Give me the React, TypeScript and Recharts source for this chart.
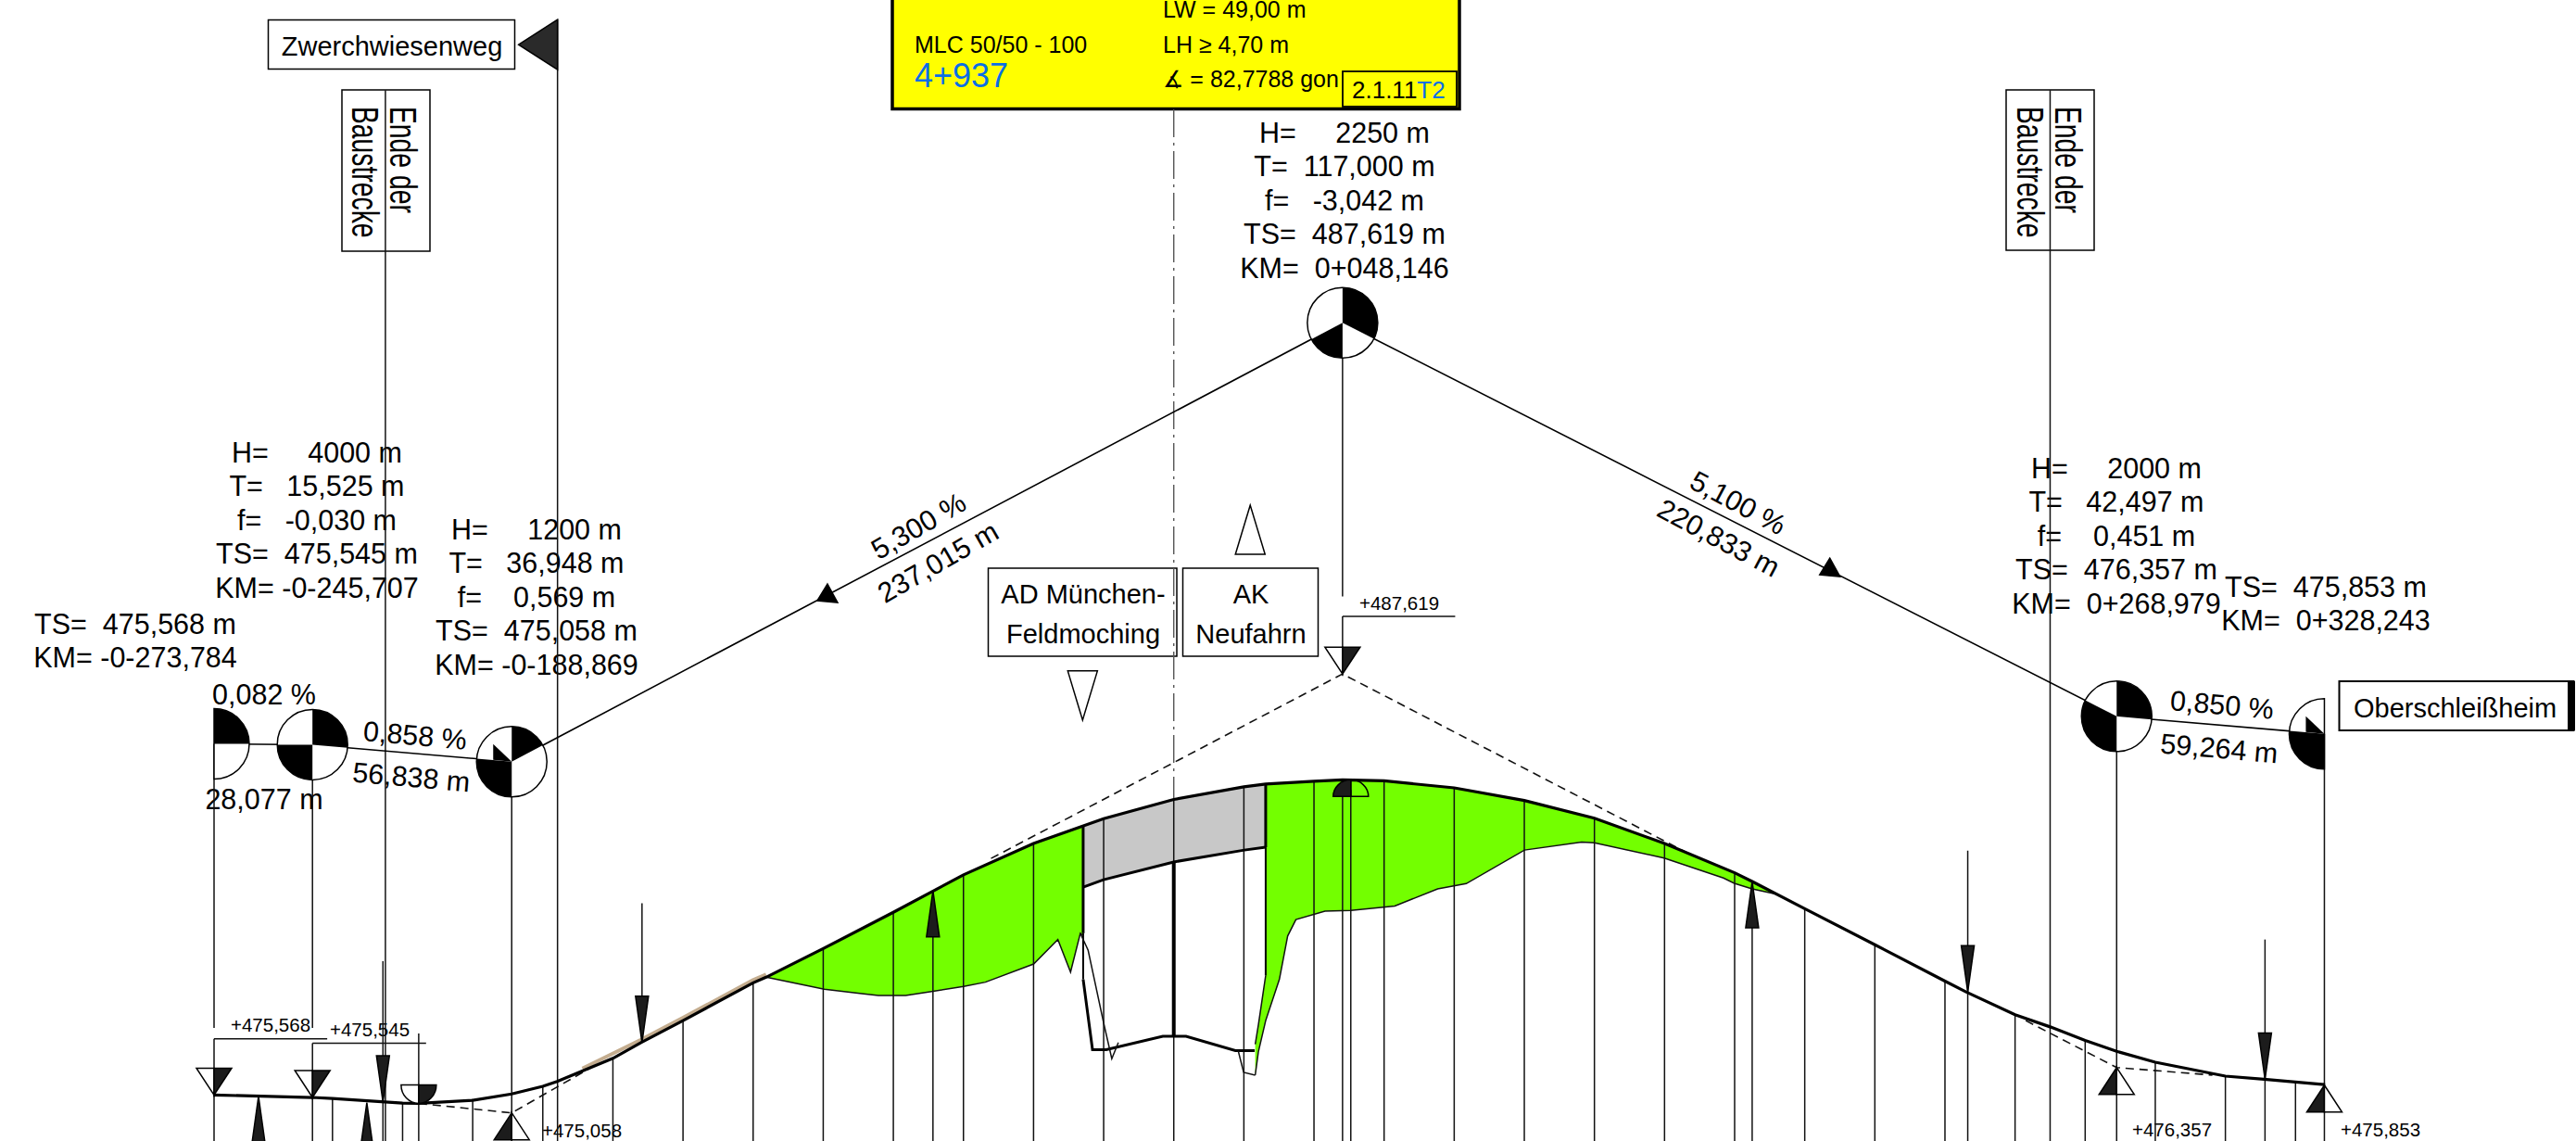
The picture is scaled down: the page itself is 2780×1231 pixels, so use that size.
import React from 'react';
import { ComposedChart, XAxis, YAxis, Line, Area, Scatter } from 'recharts';

const W = 2780, H = 1231;
const KM_DOMAIN = [-334.847, 400.02];
const TS_DOMAIN = [474.254, 506.907];
const GROUND = 474.25;
const SCHEMA_OFFSET = 10.05;
const FONT = '"Liberation Sans","DejaVu Sans",Arial,sans-serif';
const GREEN = '#73ff00';

// design profile (Gradiente)
const profileKm = [-273.78,-245.71,-240,-220,-215.4,-200,-188.87,-180,-175.9,-160,-152,-140,-120,-116.3,-100,-80,-60,-40,-20,0,20,26.22,40,48.15,60,80,100,120,140,160,165,180,200,220,226,240,250,260,268.98,280,300,311,320,328.24];
const profileTs = [475.57,475.5,475.47,475.34,475.33,475.42,475.6,475.82,475.96,476.62,477.07,477.7,478.78,478.94,479.76,480.8,481.87,482.77,483.48,484.03,484.39,484.47,484.55,484.59,484.56,484.36,484,483.49,482.77,481.93,481.68,480.9,479.87,478.83,478.52,477.87,477.52,477.13,476.82,476.51,476.11,476.02,475.94,475.87];

// tangent points
const pviKm = [-273.784,-245.707,-188.869,48.146,268.979,328.243];
const pviTs = [475.568,475.545,475.058,487.619,476.357,475.853];

// station grid
const tickKm = [-240,-220,-200,-180,-160,-140,-120,-100,-80,-60,-40,-20,0,20,40,60,80,100,120,140,160,180,200,220,240,260,280,300,320];
const tickTop = [475.47,475.34,475.42,475.82,476.62,477.7,478.78,479.76,480.8,481.87,482.77,483.48,484.03,484.39,484.55,484.56,484.36,484,483.49,482.77,481.93,480.9,479.87,478.83,477.87,477.13,476.51,476.11,475.94];

// green embankment 1
const green1Km = [-116.26,-99.68,-89.03,-84.27,-76.5,-68.68,-59.96,-53.74,-39.97,-33.07,-29.45,-26.65,-25.85];
const green1Low = [478.94,478.6,478.47,478.42,478.42,478.54,478.68,478.8,479.32,480.02,479.09,480.2,480.12];
const green1Top = [478.94,479.76,480.31,480.57,480.97,481.42,481.87,482.16,482.77,483.03,483.17,483.27,483.3];

// green embankment 2
const green2Km = [23.24,24.16,26.22,26.22,30.13,32.49,34.84,43.14,50.52,63.05,75.28,83.43,100.05,116.36,119.96,139.89,156.81,159.9,165,172.3];
const green2Low = [476.14,476.82,477.7,477.7,478.88,480.12,480.59,480.83,480.85,480.98,481.47,481.62,482.58,482.81,482.79,482.35,481.78,481.63,481.47,481.31];
const green2Top = [477.02,477.59,478.99,484.47,484.49,484.52,484.53,484.57,484.59,484.54,484.41,484.29,484,483.58,483.49,482.77,482.08,481.93,481.68,481.31];

// bridge deck
const deckKm = [-25.85,-20.04,0,20.14,26.22];
const deckLow = [481.52,481.73,482.24,482.58,482.66];
const deckTop = [483.3,483.48,484.03,484.39,484.47];

// road under the bridge and thin terrain lines
const roadKm = [-25.85,-23.18,-19.27,-3.12,3.49,17.58,23.08];
const roadTs = [478.88,476.87,476.87,477.25,477.25,476.84,476.84];
const terrainAKm = [-26.65,-24.43,-20.04,-17.68,-15.81];
const terrainATs = [480.2,479.71,477.65,476.61,477.07];
const terrainBKm = [18.37,19.93,23.24];
const terrainBTs = [476.84,476.22,476.14];

// dashed tangents
const tangentA = [[-215.4,475.33],[-188.87,475.058],[-164.4,476.46]];
const tangentB = [[-52.13,482.34],[48.146,487.619],[146.5,482.5]];
const tangentC = [[243.05,477.7],[268.979,476.357],[296.3,476.14]];
const tanStrip = [[-168.7,476.33],[-152,477.15],[-140,477.78],[-120,478.86],[-116.3,479.02]];

// long verticals: [km, from, to]
const longLines = [
  [-273.784,485.618,477.49],[-273.784,477.18,GROUND],
  [-245.707,485.595,477.49],[-245.707,477.05,GROUND],
  [-215.4,477.33,GROUND],
  [-188.869,485.108,GROUND],
  [48.146,497.669,489.84],[48.146,489.27,487.62],[48.146,484.59,GROUND],[50.5,484.3,GROUND],
  [268.979,486.407,GROUND],[328.243,485.903,GROUND],
  [-224.9,504.33,GROUND],[250,504.33,GROUND],[-175.8,506.35,GROUND],
  [-225.6,479.4,GROUND],[-151.7,481.06,477.07],[226.5,482.56,GROUND],[311.3,480.02,GROUND],
  [-68.7,481.42,GROUND],[165,481.68,GROUND],
];
const leaders = [
  [[-273.784,477.18],[-241.5,477.18]],
  [[-245.707,477.05],[-213.3,477.05]],
  [[48.146,489.27],[80.28,489.27]],
];

// symbols on the profile
const wedges = [
  { x:-273.784, y:475.57, kind:'drop' },{ x:-245.707, y:475.5, kind:'drop' },{ x:48.146, y:487.619, kind:'drop' },
  { x:-215.4, y:475.33, kind:'dish' },{ x:50.5, y:484.59, kind:'dome' },
  { x:-188.869, y:475.058, kind:'rise' },{ x:268.979, y:476.357, kind:'rise' },{ x:328.243, y:475.853, kind:'rise' },
  { x:-225.6, y:475.37, kind:'arrowDown' },{ x:-151.7, y:477.07, kind:'arrowDown' },{ x:226.5, y:478.52, kind:'arrowDown' },{ x:311.3, y:476.02, kind:'arrowDown' },
  { x:-261.1, y:475.53, kind:'arrowUp' },{ x:-230.2, y:475.35, kind:'arrowUp' },{ x:-68.7, y:481.42, kind:'arrowUp' },{ x:165, y:481.68, kind:'arrowUp' },
  { x:-99.07, y:489.93, kind:'slope' },{ x:186.9, y:490.67, kind:'slope' },
  { x:21.81, y:492.45, kind:'whiteUp' },{ x:-26.01, y:486.3, kind:'whiteDown' },
  { x:-175.8, y:505.63, kind:'flag' },
];
const outDeg = [0,5,-28,27,5,0];
const inDeg = [180,180,185,152,207,185];
const nodeHalf = ['right','full','full','full','full','left'];
const nodeTick = [false,false,true,false,false,true];

const blocks = [
  { cx:342, y:499, lines:['H=     4000 m','T=   15,525 m','f=   -0,030 m','TS=  475,545 m','KM= -0-245,707'] },
  { cx:579, y:582, lines:['H=     1200 m','T=   36,948 m','f=    0,569 m','TS=  475,058 m','KM= -0-188,869'] },
  { cx:1451, y:154, lines:['H=     2250 m','T=  117,000 m','f=   -3,042 m','TS=  487,619 m','KM=  0+048,146'] },
  { cx:2284, y:516, lines:['H=     2000 m','T=   42,497 m','f=    0,451 m','TS=  476,357 m','KM=  0+268,979'] },
  { cx:146, y:684, lines:['TS=  475,568 m','KM= -0-273,784'] },
  { cx:2510, y:644, lines:['TS=  475,853 m','KM=  0+328,243'] },
];
const slopeTexts = [
  { t:'0,082 %', x:285, y:749, r:0 },{ t:'28,077 m', x:285, y:862, r:0 },
  { t:'0,858 %', x:448, y:793, r:5 },{ t:'56,838 m', x:444, y:838, r:5 },
  { t:'5,300 %', x:991, y:567, r:-30 },{ t:'237,015 m', x:1012, y:606, r:-30 },
  { t:'5,100 %', x:1876, y:542, r:28 },{ t:'220,833 m', x:1855, y:580, r:28 },
  { t:'0,850 %', x:2398, y:760, r:5 },{ t:'59,264 m', x:2395, y:807, r:5 },
];
const levels = [
  { t:'+475,568', x:249, y:1113 },{ t:'+475,545', x:356, y:1118 },{ t:'+475,058', x:585, y:1227 },
  { t:'+487,619', x:1467, y:658 },{ t:'+476,357', x:2301, y:1226 },{ t:'+475,853', x:2526, y:1226 },
];

const toPts = (xs: number[], ys: number[]) => xs.map((x, i) => ({ x, y: ys[i] }));
const toBand = (xs: number[], lo: number[], hi: number[]) => xs.map((x, i) => ({ x, y: [lo[i], hi[i]] }));
const pairs = (a: number[][]) => a.map(([x, y]) => ({ x, y }));

const profile = toPts(profileKm, profileTs);
const upper = pviKm.map((x, i) => ({ x, y: pviTs[i] + SCHEMA_OFFSET }));
const nodes = pviKm.map((x, i) => ({ x, y: pviTs[i] + SCHEMA_OFFSET, kind: 'node', out: outDeg[i], in: inDeg[i], half: nodeHalf[i], tick: nodeTick[i] }));

const polar = (cx: number, cy: number, r: number, d: number) => {
  const a = (d * Math.PI) / 180;
  return `${cx + r * Math.cos(a)} ${cy + r * Math.sin(a)}`;
};
const sector = (cx: number, cy: number, r: number, a: number, b: number) =>
  `M${cx} ${cy}L${polar(cx, cy, r, a)}A${r} ${r} 0 ${b - a > 180 ? 1 : 0} 1 ${polar(cx, cy, r, b)}Z`;

function Node(p: any) {
  const { cx, cy, payload: d } = p;
  const r = 38;
  const parts: any[] = [];
  if (d.half === 'right') {
    parts.push(<path key="o" d={`M${cx} ${cy - r}A${r} ${r} 0 0 1 ${cx} ${cy + r}Z`} fill="#fff" stroke="#000" strokeWidth={1.5} />);
    parts.push(<path key="a" d={sector(cx, cy, r, -90, 0)} fill="#000" />);
  } else if (d.half === 'left') {
    parts.push(<path key="o" d={`M${cx} ${cy + r}A${r} ${r} 0 0 1 ${cx} ${cy - r}Z`} fill="#fff" stroke="#000" strokeWidth={1.5} />);
    parts.push(<path key="b" d={sector(cx, cy, r, 90, d.in)} fill="#000" />);
  } else {
    parts.push(<circle key="o" cx={cx} cy={cy} r={r} fill="#fff" stroke="#000" strokeWidth={1.5} />);
    parts.push(<path key="a" d={sector(cx, cy, r, -90, d.out)} fill="#000" />);
    parts.push(<path key="b" d={sector(cx, cy, r, 90, d.in)} fill="#000" />);
  }
  if (d.tick) parts.push(<path key="t" d={`M${cx - 20} ${cy - 19}L${cx} ${cy}L${cx - 20} ${cy - 2}Z`} fill="#000" />);
  return <g>{parts}</g>;
}

function Glyph(p: any) {
  const { cx, cy, payload: d } = p;
  const dark = '#1c1c1c';
  const s = { stroke: '#000', strokeWidth: 1.5 };
  const P = (pts: number[][], fill: string, key: string) => (
    <polygon key={key} points={pts.map(([a, b]) => `${cx + a},${cy + b}`).join(' ')} fill={fill} {...s} />
  );
  switch (d.kind) {
    case 'drop':
      return <g>{P([[0, 0], [-19, -29], [0, -29]], '#fff', 'a')}{P([[0, 0], [19, -29], [0, -29]], dark, 'b')}</g>;
    case 'rise':
      return <g>{P([[0, 0], [-19, 29], [0, 29]], dark, 'a')}{P([[0, 0], [19, 29], [0, 29]], '#fff', 'b')}</g>;
    case 'dish':
      return <g>
        <path d={`M${cx} ${cy - 20}L${cx - 19} ${cy - 20}A19 20 0 0 0 ${cx} ${cy}Z`} fill="#fff" {...s} />
        <path d={`M${cx} ${cy - 20}L${cx + 19} ${cy - 20}A19 20 0 0 1 ${cx} ${cy}Z`} fill={dark} {...s} />
      </g>;
    case 'dome':
      return <g>
        <path d={`M${cx} ${cy + 18}L${cx - 19} ${cy + 18}A19 18 0 0 1 ${cx} ${cy}Z`} fill={dark} {...s} />
        <path d={`M${cx} ${cy + 18}L${cx + 19} ${cy + 18}A19 18 0 0 0 ${cx} ${cy}Z`} fill="none" {...s} />
      </g>;
    case 'arrowDown':
      return P([[0, 0], [-7, -50], [7, -50]], dark, 'a');
    case 'arrowUp':
      return P([[0, 0], [-7, 50], [7, 50]], dark, 'a');
    case 'slope':
      return P([[1, -10], [-10, 8], [12, 10]], '#000', 'a');
    case 'whiteUp':
      return P([[0, 0], [-16, 53], [16, 53]], '#fff', 'a');
    case 'whiteDown':
      return P([[0, 0], [-16, -53], [16, -53]], '#fff', 'a');
    case 'flag':
      return P([[-42, 0], [0, -27], [0, 27]], '#2a2a2a', 'a');
    default:
      return null;
  }
}

const Seg = (key: string, data: any[], stroke = '#111', w = 1.5, dash?: string) => (
  <Line key={key} data={data} dataKey="y" stroke={stroke} strokeWidth={w} strokeDasharray={dash}
    dot={false} activeDot={false} isAnimationActive={false} legendType="none" type="linear" />
);
const Band = (key: string, data: any[], fill: string) => (
  <Area key={key} data={data} dataKey="y" stroke="none" fill={fill} fillOpacity={1}
    dot={false} activeDot={false} isAnimationActive={false} legendType="none" type="linear" />
);

const T = (p: any) => <text fontFamily={FONT} fill="#000" style={{ whiteSpace: 'pre' }} {...p} />;

function Box({ x, y, w, h, sw = 1.5 }: any) {
  return <rect x={x} y={y} width={w} height={h} fill="#fff" stroke="#000" strokeWidth={sw} />;
}

function Rotated({ x, y, t }: any) {
  return (
    <text transform={`translate(${x},${y}) rotate(90) scale(0.69,1)`} fontFamily={FONT} fontSize={41} fill="#000">{t}</text>
  );
}

export default function App() {
  return (
    <div style={{ position: 'absolute', left: 0, top: 0, width: W, height: H, background: '#fff', overflow: 'hidden' }}>
      <ComposedChart width={W} height={H} margin={{ top: 0, right: 0, bottom: 0, left: 0 }}>
        <XAxis type="number" dataKey="x" domain={KM_DOMAIN} allowDataOverflow hide />
        <YAxis type="number" dataKey="y" domain={TS_DOMAIN} allowDataOverflow hide />

        {Band('g1', toBand(green1Km, green1Low, green1Top), GREEN)}
        {Band('g2', toBand(green2Km, green2Low, green2Top), GREEN)}
        {Band('deck', toBand(deckKm, deckLow, deckTop), '#c8c8c8')}

        {tickKm.map((k, i) => Seg(`tick${k}`, [{ x: k, y: tickTop[i] }, { x: k, y: GROUND }]))}
        {longLines.map(([k, a, b], i) => Seg(`long${i}`, [{ x: k, y: a }, { x: k, y: b }]))}
        {leaders.map((l, i) => Seg(`lead${i}`, pairs(l)))}

        {Seg('center', [{ x: 0, y: 503.78 }, { x: 0, y: 484.03 }], '#555', 1.4, '30 6 3 6')}
        {Seg('pier', [{ x: 0, y: 482.24 }, { x: 0, y: 477.25 }], '#000', 4)}
        {Seg('abutL', [{ x: -25.85, y: 483.3 }, { x: -25.85, y: 480.2 }], '#000', 3)}
        {Seg('abutL2', [{ x: -25.85, y: 480.2 }, { x: -25.85, y: 478.88 }], '#000', 2)}
        {Seg('abutR', [{ x: 26.22, y: 484.47 }, { x: 26.22, y: 482.66 }], '#000', 3)}
        {Seg('abutR2', [{ x: 26.22, y: 482.66 }, { x: 26.22, y: 478.99 }], '#000', 2)}

        {Seg('deckLow', toPts(deckKm, deckLow), '#000', 3)}
        {Seg('green1Low', toPts(green1Km, green1Low), '#111', 1.5)}
        {Seg('green2LowA', toPts(green2Km, green2Low), '#111', 1.5)}
        {Seg('wedgeEdge', toPts(green2Km.slice(0, 3), green2Top.slice(0, 3)), '#111', 1.5)}
        {Seg('road', toPts(roadKm, roadTs), '#000', 3)}
        {Seg('terrainA', toPts(terrainAKm, terrainATs), '#111', 1.5)}
        {Seg('terrainB', toPts(terrainBKm, terrainBTs), '#111', 1.5)}

        {Seg('tanA', pairs(tangentA), '#111', 1.6, '9 6')}
        {Seg('tanB', pairs(tangentB), '#111', 1.6, '9 6')}
        {Seg('tanC', pairs(tangentC), '#111', 1.6, '9 6')}
        {Seg('tan', pairs(tanStrip), '#c4ad8f', 4)}
        {Seg('profile', profile, '#000', 3.2)}
        {Seg('upper', upper, '#000', 1.6)}

        <Scatter data={nodes} shape={Node} isAnimationActive={false} legendType="none" />
        <Scatter data={wedges} shape={Glyph} isAnimationActive={false} legendType="none" />

        {/* yellow title block */}
        <rect x={963} y={-10} width={612} height={127.5} fill="#ffff00" stroke="#000" strokeWidth={3.5} />
        <rect x={1449} y={77} width={123} height={38} fill="#ffff00" stroke="#000" strokeWidth={1.8} />
        <T x={1255} y={19} fontSize={25}>LW = 49,00 m</T>
        <T x={1255} y={57} fontSize={25}>LH ≥ 4,70 m</T>
        <T x={1255} y={94} fontSize={25}>∡ = 82,7788 gon</T>
        <T x={987} y={57} fontSize={25}>MLC 50/50 - 100</T>
        <T x={987} y={94} fontSize={36} fill="#0a6ee6">4+937</T>
        <T x={1459} y={106} fontSize={26}>2.1.11<tspan fill="#0a6ee6">T2</tspan></T>

        {/* labelled boxes */}
        <Box x={289.5} y={21.5} w={266} h={53} />
        <T x={423} y={60} fontSize={29} textAnchor="middle">Zwerchwiesenweg</T>

        <rect x={369} y={97} width={95} height={174} fill="none" stroke="#000" strokeWidth={1.5} />
        <Rotated x={421} y={115} t="Ende der" />
        <Rotated x={380} y={115} t="Baustrecke" />
        <rect x={2165} y={97} width={95} height={173} fill="none" stroke="#000" strokeWidth={1.5} />
        <Rotated x={2218} y={115} t="Ende der" />
        <Rotated x={2177} y={115} t="Baustrecke" />

        <Box x={1066.5} y={613} w={203.5} h={95} />
        <T x={1169} y={651} fontSize={29} textAnchor="middle">AD München-</T>
        <T x={1169} y={694} fontSize={29} textAnchor="middle">Feldmoching</T>
        <Box x={1276.5} y={613} w={146} h={95} />
        <T x={1350} y={651} fontSize={29} textAnchor="middle">AK</T>
        <T x={1350} y={694} fontSize={29} textAnchor="middle">Neufahrn</T>

        <Box x={2524.5} y={735} w={253} h={53} sw={2} />
        <rect x={2771} y={735} width={8} height={53} fill="#000" />
        <T x={2540} y={774} fontSize={29}>Oberschleißheim</T>

        {blocks.map((b, i) =>
          b.lines.map((l, j) => (
            <T key={`b${i}-${j}`} x={b.cx} y={b.y + j * 36.4} fontSize={30.5} textAnchor="middle">{l}</T>
          ))
        )}
        {slopeTexts.map((s, i) => (
          <T key={`s${i}`} x={s.x} y={s.y} dy={11} fontSize={30.5} textAnchor="middle" transform={`rotate(${s.r} ${s.x} ${s.y})`}>{s.t}</T>
        ))}
        {levels.map((l, i) => (
          <T key={`l${i}`} x={l.x} y={l.y} fontSize={20.5}>{l.t}</T>
        ))}
      </ComposedChart>
    </div>
  );
}
